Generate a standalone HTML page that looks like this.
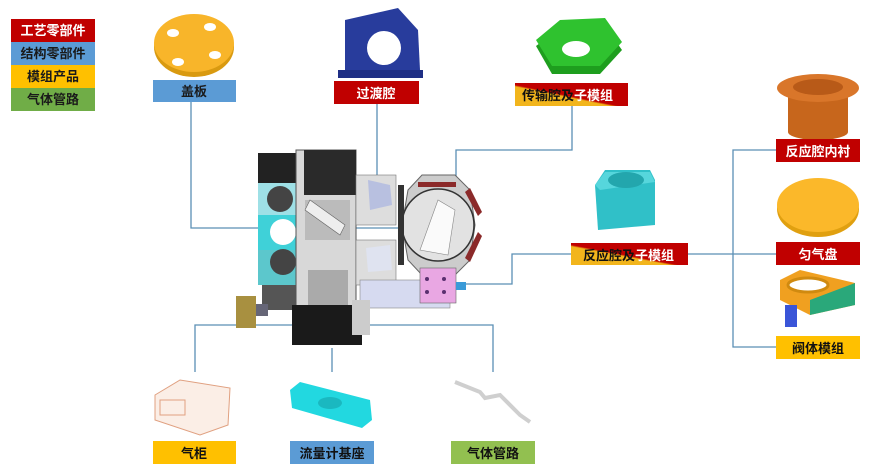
<!DOCTYPE html>
<html><head><meta charset="utf-8"><style>
html,body{margin:0;padding:0;background:#fff;}
svg{display:block;}
text{font-family:"Liberation Sans","Noto Sans CJK SC",sans-serif;font-size:13px;font-weight:bold;}
</style></head><body>
<svg width="871" height="472" viewBox="0 0 871 472" xmlns="http://www.w3.org/2000/svg">
<defs>
<linearGradient id="gy" x1="0" y1="1" x2="1" y2="0">
<stop offset="0.42" stop-color="#f2b51c"/><stop offset="0.46" stop-color="#c00000"/></linearGradient>
</defs>
<rect x="11" y="19" width="84" height="23" fill="#c00000"/>
<text x="53" y="35" text-anchor="middle" fill="#fff">工艺零部件</text>
<rect x="11" y="42" width="84" height="23" fill="#5b9bd5"/>
<text x="53" y="58" text-anchor="middle" fill="#1a1a1a">结构零部件</text>
<rect x="11" y="65" width="84" height="23" fill="#ffc000"/>
<text x="53" y="81" text-anchor="middle" fill="#1a1a1a">模组产品</text>
<rect x="11" y="88" width="84" height="23" fill="#70ad47"/>
<text x="53" y="104" text-anchor="middle" fill="#1a1a1a">气体管路</text>

<g stroke="#5a8fb5" stroke-width="1.3" fill="none">
<polyline points="191,102 191,228 400,228"/>
<polyline points="377,104 377,205"/>
<polyline points="572,106 572,150 456,150 456,192"/>
<polyline points="462,284 512,284 512,254 571,254"/>
<polyline points="688,254 776,254"/>
<polyline points="776,150 733,150 733,347 776,347"/>
<polyline points="195,372 195,325 493,325 493,372"/>
<polyline points="332,348 332,372"/>
</g>

<ellipse cx="194" cy="47" rx="40" ry="30" fill="#d99a10"/>
<ellipse cx="194" cy="43" rx="40" ry="29" fill="#f8b52a"/>
<ellipse cx="173" cy="33" rx="6" ry="4" fill="#fff"/>
<ellipse cx="210" cy="27" rx="6" ry="4" fill="#fff"/>
<ellipse cx="178" cy="62" rx="6" ry="4" fill="#fff"/>
<ellipse cx="215" cy="55" rx="6" ry="4" fill="#fff"/>
<rect x="153" y="80" width="83" height="22" fill="#5b9bd5"/>
<text x="194" y="96" text-anchor="middle" fill="#1a1a1a">盖板</text>

<polygon points="345,20 398,8 418,30 420,70 345,78" fill="#283c9c"/>
<circle cx="384" cy="48" r="17" fill="#fff"/>
<rect x="338" y="70" width="85" height="8" fill="#1f2f85"/>
<rect x="334" y="81" width="85" height="23" fill="#c00000"/>
<text x="376" y="98" text-anchor="middle" fill="#fff">过渡腔</text>

<polygon points="536,46 560,28 605,26 622,50 600,74 552,74" fill="#1e9e1e"/>
<polygon points="536,40 560,20 605,18 622,42 600,66 552,66" fill="#2fc22f"/>
<ellipse cx="576" cy="49" rx="14" ry="8" fill="#fff"/>
<rect x="515" y="83" width="113" height="23" fill="url(#gy)"/>
<text x="522" y="100" fill="#111">传输腔及<tspan fill="#fff">子模组</tspan></text>

<g>
<rect x="258" y="153" width="38" height="30" fill="#222"/>
<rect x="258" y="183" width="38" height="32" fill="#9ee0e6"/>
<circle cx="280" cy="199" r="13" fill="#444"/>
<rect x="258" y="215" width="38" height="35" fill="#3fd1d8"/>
<circle cx="283" cy="232" r="13" fill="#fff"/>
<rect x="258" y="250" width="38" height="35" fill="#5cc7cc"/>
<circle cx="283" cy="262" r="13" fill="#444"/>
<rect x="262" y="285" width="34" height="25" fill="#555"/>
<rect x="296" y="150" width="60" height="160" fill="#d8d8d8" stroke="#555" stroke-width="1"/>
<rect x="304" y="150" width="52" height="45" fill="#2a2a2a"/>
<rect x="305" y="200" width="45" height="40" fill="#bbb"/>
<rect x="308" y="270" width="40" height="35" fill="#aaa"/>
<polygon points="310,200 345,225 340,235 305,210" fill="#eee" stroke="#666" stroke-width="0.6"/>
<rect x="356" y="175" width="40" height="50" fill="#ddd" stroke="#777" stroke-width="0.6"/>
<polygon points="368,180 390,185 392,205 370,210" fill="#b8c0e0"/>
<rect x="356" y="240" width="40" height="45" fill="#ddd" stroke="#777" stroke-width="0.6"/>
<polygon points="366,248 390,245 392,270 368,272" fill="#dfe3f0"/>
<rect x="360" y="280" width="90" height="28" fill="#d6daf0" stroke="#888" stroke-width="0.6"/>
<rect x="292" y="305" width="70" height="40" fill="#1a1a1a"/>
<rect x="352" y="300" width="18" height="35" fill="#ccc"/>
<rect x="236" y="296" width="20" height="32" fill="#a89040"/>
<rect x="256" y="304" width="12" height="12" fill="#667"/>
<polygon points="408,190 422,175 455,175 470,190 475,225 470,260 455,275 422,275 408,260 402,225" fill="#ccc" stroke="#666" stroke-width="1"/>
<circle cx="438" cy="225" r="36" fill="#e2e2e2" stroke="#333" stroke-width="1.5"/>
<polygon points="420,250 438,200 455,210 448,255" fill="#fafafa" stroke="#888" stroke-width="0.6"/>
<rect x="418" y="182" width="38" height="5" fill="#8b2a2a"/>
<polygon points="465,192 470,188 482,212 478,216" fill="#8b2a2a"/>
<polygon points="478,232 482,236 470,262 465,258" fill="#8b2a2a"/>
<rect x="398" y="185" width="6" height="80" fill="#333"/>
<rect x="420" y="268" width="36" height="35" fill="#e9a7e3" stroke="#666" stroke-width="0.6"/>
<g fill="#5a2f6f"><circle cx="427" cy="279" r="2"/><circle cx="444" cy="279" r="2"/><circle cx="427" cy="292" r="2"/><circle cx="444" cy="292" r="2"/></g>
<rect x="456" y="282" width="10" height="8" fill="#3a9ad8"/>
</g>

<polygon points="595,185 605,170 650,170 655,180 655,225 598,230" fill="#30c0c8"/>
<polygon points="595,185 605,172 650,172 655,182 600,190" fill="#56d6dc"/>
<ellipse cx="626" cy="180" rx="18" ry="8" fill="#23a6ad"/>
<rect x="571" y="243" width="117" height="22" fill="url(#gy)"/>
<text x="583" y="260" fill="#111">反应腔及<tspan fill="#fff">子模组</tspan></text>

<rect x="788" y="90" width="60" height="42" fill="#c7661c"/>
<ellipse cx="818" cy="132" rx="30" ry="8" fill="#c7661c"/>
<ellipse cx="818" cy="88" rx="41" ry="14" fill="#d9762a"/>
<ellipse cx="818" cy="87" rx="25" ry="8" fill="#b85a18"/>
<rect x="776" y="139" width="84" height="23" fill="#c00000"/>
<text x="818" y="156" text-anchor="middle" fill="#fff">反应腔内衬</text>

<ellipse cx="818" cy="209" rx="41" ry="28" fill="#e0a010"/>
<ellipse cx="818" cy="205" rx="41" ry="27" fill="#fbb82a"/>
<rect x="776" y="242" width="84" height="23" fill="#c00000"/>
<text x="818" y="259" text-anchor="middle" fill="#fff">匀气盘</text>

<polygon points="780,280 800,270 855,283 855,305 810,315 780,300" fill="#f0a020"/>
<polygon points="810,300 855,283 855,305 810,315" fill="#2aa87a"/>
<ellipse cx="808" cy="285" rx="20" ry="7" fill="#fff" stroke="#d08a10" stroke-width="3"/>
<rect x="785" y="305" width="12" height="22" fill="#3a55d8"/>
<rect x="776" y="336" width="84" height="23" fill="#ffc000"/>
<text x="818" y="353" text-anchor="middle" fill="#111">阀体模组</text>

<polygon points="155,395 180,380 230,388 228,425 200,435 155,420" fill="#fbeee6" stroke="#e0a080" stroke-width="1"/>
<rect x="160" y="400" width="25" height="15" fill="none" stroke="#e0a080"/>
<rect x="153" y="441" width="83" height="23" fill="#ffc000"/>
<text x="194" y="458" text-anchor="middle" fill="#111">气柜</text>

<polygon points="290,390 300,382 370,400 372,420 362,428 292,408" fill="#22d8e0"/>
<ellipse cx="330" cy="403" rx="12" ry="6" fill="#1ab8c0"/>
<rect x="290" y="441" width="84" height="23" fill="#5b9bd5"/>
<text x="332" y="458" text-anchor="middle" fill="#111">流量计基座</text>

<polyline points="455,382 480,392 485,398 500,395 520,415 530,422" stroke="#cfcfcf" stroke-width="4" fill="none"/>
<rect x="451" y="441" width="84" height="23" fill="#92c050"/>
<text x="493" y="458" text-anchor="middle" fill="#111">气体管路</text>
</svg>
</body></html>
